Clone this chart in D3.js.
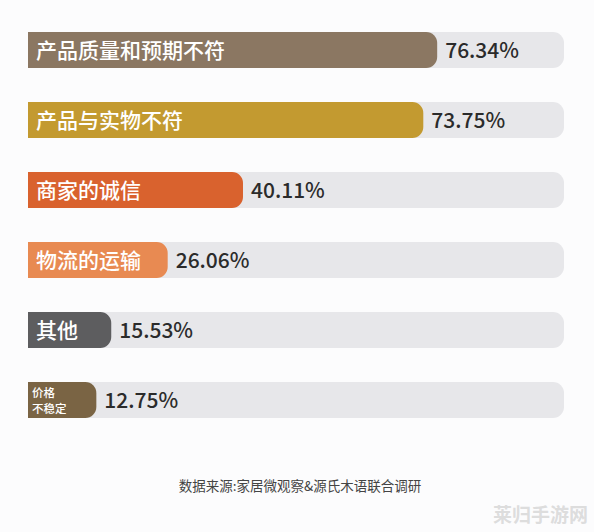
<!DOCTYPE html>
<html><head><meta charset="utf-8">
<script src="https://cdn.jsdelivr.net/npm/d3@7"></script>
<style>body{margin:0;background:#fcfcfd;}text{font-family:"Noto Sans CJK SC","Noto Sans",sans-serif;}</style>
</head><body><div id="chart"></div>
<script>
const categories = ["产品质量和预期不符", "产品与实物不符", "商家的诚信", "物流的运输", "其他", "价格\n不稳定"];
const values = [76.34, 73.75, 40.11, 26.06, 15.53, 12.75];
const colors = ["#8b7762", "#c39a30", "#d9622e", "#e88a52", "#5d5d5f", "#7a6444"];

const W = 594, H = 532;
const svg = d3.select("#chart").append("svg").attr("width", W).attr("height", H);
svg.append("rect").attr("width", W).attr("height", H).attr("fill", "#fcfcfd");

const x = d3.scaleLinear().domain([0, 100]).range([28, 564]);
const y = d3.scaleBand().domain(categories).range([32, 418]).paddingInner(34 / 70).paddingOuter(0);
const bh = y.bandwidth(), r = 11;

function rightRound(x0, x1, y0, h) {
  const rr = Math.min(r, (x1 - x0) / 2);
  return `M${x0},${y0}H${x1 - rr}A${rr},${rr} 0 0 1 ${x1},${y0 + rr}V${y0 + h - rr}A${rr},${rr} 0 0 1 ${x1 - rr},${y0 + h}H${x0}Z`;
}

const g = svg.selectAll("g.row").data(categories).enter().append("g").attr("class", "row");
g.append("path").attr("fill", "#e7e7ea").attr("d", d => rightRound(x(0), x(100), y(d), bh));
g.append("path").attr("fill", (d, i) => colors[i]).attr("d", (d, i) => rightRound(x(0), x(values[i]), y(d), bh));
g.each(function (d, i) {
  const sel = d3.select(this);
  const lines = d.split("\n");
  if (lines.length === 1) {
    sel.append("text").attr("x", x(0) + 8).attr("y", y(d) + bh / 2 + 8)
      .attr("fill", "#fff").attr("font-size", 21).attr("font-weight", 500).text(d);
  } else {
    lines.forEach((l, k) => sel.append("text").attr("x", x(0) + 4).attr("y", y(d) + 15 + k * 16)
      .attr("fill", "#fff").attr("font-size", 11.5).attr("font-weight", 500).text(l));
  }
  sel.append("text").attr("x", x(values[i]) + 8).attr("y", y(d) + bh / 2 + 8)
    .attr("fill", "#2b2b2b").attr("font-size", 21).attr("font-weight", 500).text(values[i].toFixed(2) + "%");
});

svg.append("text").attr("x", 300).attr("y", 491).attr("text-anchor", "middle")
  .attr("fill", "#444").attr("font-size", 13.5).text("数据来源:家居微观察&源氏木语联合调研");
svg.append("text").attr("x", 588).attr("y", 522).attr("text-anchor", "end")
  .attr("fill", "#ddd").attr("font-size", 19).attr("font-weight", "bold").text("莱归手游网");
</script></body></html>
